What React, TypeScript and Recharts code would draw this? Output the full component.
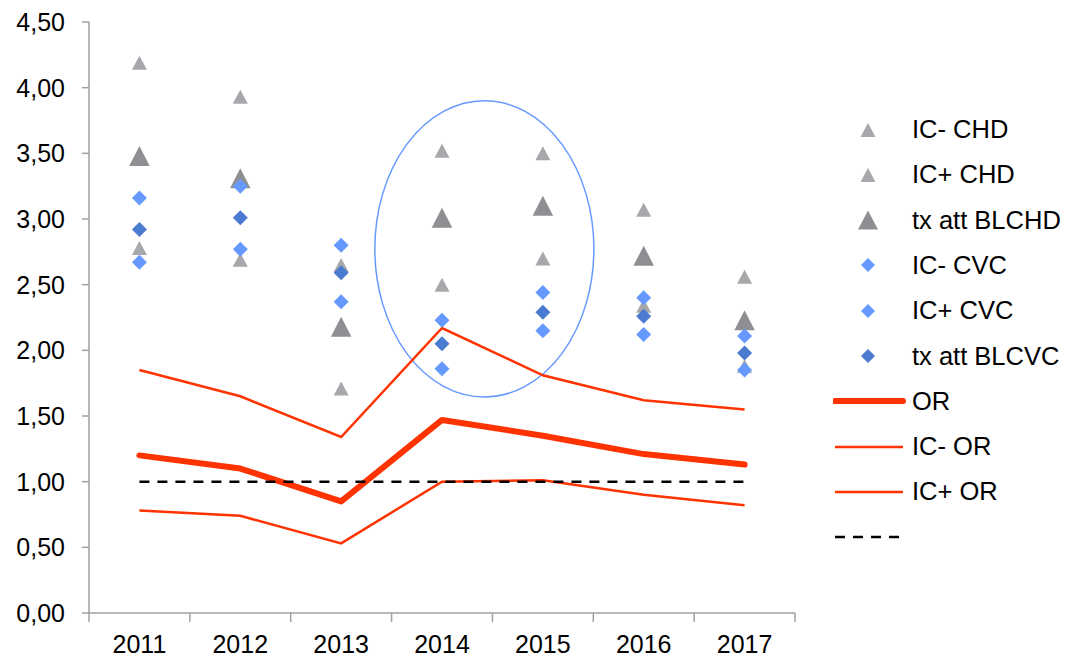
import React from 'react';
import { ComposedChart, Line, XAxis, YAxis, ReferenceArea } from 'recharts';

const years = ['2011', '2012', '2013', '2014', '2015', '2016', '2017'];
const icMinusCHD = [2.78, 2.69, 1.71, 2.5, 2.7, 2.34, 1.88];
const icPlusCHD = [4.19, 3.93, 2.65, 3.52, 3.5, 3.07, 2.56];
const txAttCHD = [3.48, 3.31, 2.18, 3.01, 3.1, 2.72, 2.23];
const icMinusCVC = [2.67, 2.77, 2.37, 1.86, 2.15, 2.12, 1.85];
const icPlusCVC = [3.16, 3.25, 2.8, 2.23, 2.44, 2.4, 2.11];
const txAttCVC = [2.92, 3.01, 2.59, 2.05, 2.29, 2.26, 1.98];
const orValues = [1.2, 1.1, 0.85, 1.47, 1.35, 1.21, 1.13];
const icMinusOR = [0.78, 0.74, 0.53, 1.0, 1.01, 0.9, 0.82];
const icPlusOR = [1.85, 1.65, 1.34, 2.17, 1.81, 1.62, 1.55];
const refOne = [1, 1, 1, 1, 1, 1, 1];
const yTicks = [0, 0.5, 1, 1.5, 2, 2.5, 3, 3.5, 4, 4.5];
const ellipseYears = ['2014', '2015'];
const ellipseY = [1.645, 3.9];

const legendLabels = [
  'IC- CHD',
  'IC+ CHD',
  'tx att BLCHD',
  'IC- CVC',
  'IC+ CVC',
  'tx att BLCVC',
  'OR',
  'IC- OR',
  'IC+ OR',
  '',
];

const data = years.map((y, i) => ({
  year: y,
  icMinusCHD: icMinusCHD[i],
  icPlusCHD: icPlusCHD[i],
  txAttCHD: txAttCHD[i],
  icMinusCVC: icMinusCVC[i],
  icPlusCVC: icPlusCVC[i],
  txAttCVC: txAttCVC[i],
  or: orValues[i],
  icMinusOR: icMinusOR[i],
  icPlusOR: icPlusOR[i],
  refOne: refOne[i],
}));

const LIGHT_TRI = '#A6A8AB';
const DARK_TRI = '#8D8F92';
const LIGHT_DIA = '#6699FF';
const DARK_DIA = '#4B7BD0';
const RED = '#FF3300';
const AXIS = '#A0A0A0';
const FONT = '"Liberation Sans", Arial, sans-serif';

const triPath = (cx: number, cy: number, w: number, h: number) =>
  `M${cx},${cy - h / 2} L${cx + w / 2},${cy + h / 2} L${cx - w / 2},${cy + h / 2} Z`;
const diaPath = (cx: number, cy: number, r: number) =>
  `M${cx},${cy - r} L${cx + r},${cy} L${cx},${cy + r} L${cx - r},${cy} Z`;

const makeTri = (color: string, w: number, h: number) => (p: any) => {
  if (p.cx == null || p.cy == null) return <g key={`t${p.index}`} />;
  return <path key={`t${p.index}`} d={triPath(p.cx, p.cy, w, h)} fill={color} />;
};
const makeDia = (color: string, r: number) => (p: any) => {
  if (p.cx == null || p.cy == null) return <g key={`d${p.index}`} />;
  return <path key={`d${p.index}`} d={diaPath(p.cx, p.cy, r)} fill={color} />;
};

const EllipseShape = (p: any) => (
  <ellipse
    cx={p.x + p.width * 0.46}
    cy={p.y + p.height / 2}
    rx={p.width * 0.543}
    ry={p.height / 2}
    fill="none"
    stroke={LIGHT_DIA}
    strokeWidth={1.5}
  />
);

const XTick = (p: any) => {
  const { x, y, payload, index } = p;
  const off = payload && payload.offset ? payload.offset : 0;
  return (
    <g>
      <line x1={x - off} y1={y} x2={x - off} y2={y + 9} stroke={AXIS} strokeWidth={1.5} />
      {index === years.length - 1 && (
        <line x1={x + off} y1={y} x2={x + off} y2={y + 9} stroke={AXIS} strokeWidth={1.5} />
      )}
      <text x={x} y={y + 40} textAnchor="middle" fontSize={25} fontFamily={FONT} fill="#000">
        {payload.value}
      </text>
    </g>
  );
};

const legendIcon = (i: number) => {
  if (i === 0 || i === 1) return <path d={triPath(35, 12, 15, 14)} fill={LIGHT_TRI} />;
  if (i === 2) return <path d={triPath(35, 12, 20, 19)} fill={DARK_TRI} />;
  if (i === 3 || i === 4) return <path d={diaPath(35, 12, 7)} fill={LIGHT_DIA} />;
  if (i === 5) return <path d={diaPath(35, 12, 7)} fill={DARK_DIA} />;
  if (i === 6) return <line x1={2} y1={12} x2={70} y2={12} stroke={RED} strokeWidth={6} strokeLinecap="round" />;
  if (i === 7 || i === 8) return <line x1={2} y1={12} x2={70} y2={12} stroke={RED} strokeWidth={2.5} />;
  return <line x1={2} y1={12} x2={66} y2={12} stroke="#000" strokeWidth={2.5} strokeDasharray="10 8" />;
};

export default function App() {
  return (
    <div style={{ position: 'absolute', left: 0, top: 0, width: 1069, height: 657, background: '#fff', fontFamily: FONT }}>
      <ComposedChart width={1069} height={657} data={data} margin={{ top: 22, right: 274, bottom: 14, left: 0 }}>
        <XAxis
          xAxisId="cat"
          dataKey="year"
          scale="band"
          height={30}
          tickLine={false}
          axisLine={{ stroke: AXIS, strokeWidth: 1.5 }}
          tickSize={0}
          tickMargin={0}
          interval={0}
          tick={<XTick />}
        />
        <YAxis
          domain={[0, 4.5]}
          ticks={yTicks}
          width={89}
          tickSize={7}
          tickMargin={17}
          tickFormatter={(v: number) => v.toFixed(2).replace('.', ',')}
          tick={{ fill: '#000', fontSize: 25, fontFamily: FONT }}
          tickLine={{ stroke: AXIS, strokeWidth: 1.5 }}
          axisLine={{ stroke: AXIS, strokeWidth: 1.5 }}
          interval={0}
        />
        <ReferenceArea
          xAxisId="cat"
          x1={ellipseYears[0]}
          x2={ellipseYears[1]}
          y1={ellipseY[0]}
          y2={ellipseY[1]}
          shape={EllipseShape}
        />
        <Line xAxisId="cat" dataKey="icMinusCHD" stroke="none" dot={makeTri(LIGHT_TRI, 15, 14)} activeDot={false} isAnimationActive={false} />
        <Line xAxisId="cat" dataKey="icPlusCHD" stroke="none" dot={makeTri(LIGHT_TRI, 15, 14)} activeDot={false} isAnimationActive={false} />
        <Line xAxisId="cat" dataKey="txAttCHD" stroke="none" dot={makeTri(DARK_TRI, 20.5, 20)} activeDot={false} isAnimationActive={false} />
        <Line xAxisId="cat" dataKey="icMinusCVC" stroke="none" dot={makeDia(LIGHT_DIA, 7.5)} activeDot={false} isAnimationActive={false} />
        <Line xAxisId="cat" dataKey="icPlusCVC" stroke="none" dot={makeDia(LIGHT_DIA, 7.5)} activeDot={false} isAnimationActive={false} />
        <Line xAxisId="cat" dataKey="txAttCVC" stroke="none" dot={makeDia(DARK_DIA, 7.5)} activeDot={false} isAnimationActive={false} />
        <Line xAxisId="cat" dataKey="or" stroke={RED} strokeWidth={6} strokeLinecap="round" strokeLinejoin="round" dot={false} activeDot={false} isAnimationActive={false} />
        <Line xAxisId="cat" dataKey="icMinusOR" stroke={RED} strokeWidth={2.5} dot={false} activeDot={false} isAnimationActive={false} />
        <Line xAxisId="cat" dataKey="icPlusOR" stroke={RED} strokeWidth={2.5} dot={false} activeDot={false} isAnimationActive={false} />
        <Line xAxisId="cat" dataKey="refOne" stroke="#000" strokeWidth={2.5} strokeDasharray="10 8" dot={false} activeDot={false} isAnimationActive={false} />
      </ComposedChart>
      <div style={{ position: 'absolute', left: 833, top: 107 }}>
        {legendLabels.map((label, i) => (
          <div key={i} style={{ position: 'absolute', left: 0, top: i * 45.3, width: 236, height: 45, display: 'flex', alignItems: 'center' }}>
            <svg width={78} height={24} style={{ flex: 'none' }}>
              {legendIcon(i)}
            </svg>
            <span style={{ fontSize: 25.5, color: '#000', whiteSpace: 'nowrap', marginLeft: 1 }}>{label}</span>
          </div>
        ))}
      </div>
    </div>
  );
}
